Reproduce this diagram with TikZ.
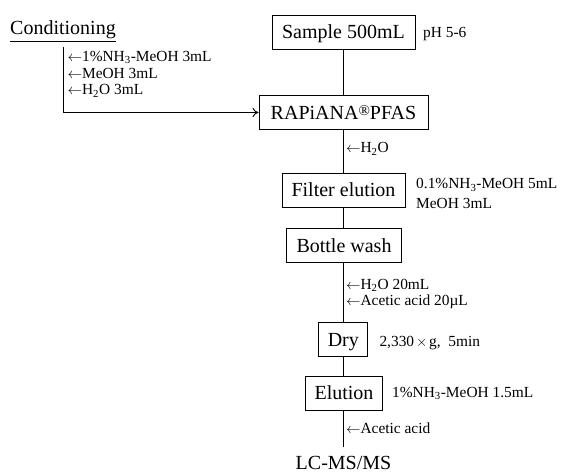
\documentclass[tikz,border=0pt]{standalone}
\usepackage{fontspec}
\setmainfont{Liberation Serif}
\usetikzlibrary{arrows.meta}
\newcommand{\la}{\ensuremath{\leftarrow}}
\begin{document}
\begin{tikzpicture}[x=1pt,y=-1pt,
  stepbox/.style={draw,line width=0.9pt,minimum height=34pt,inner sep=0pt,text height=13.5pt,text depth=0pt,font=\fontsize{20}{24}\selectfont},
  note/.style={anchor=base west,inner sep=0pt,font=\fontsize{15.4}{18}\selectfont,align=left},
  flow/.style={line width=0.9pt}]
\useasboundingbox (0,0) rectangle (562,473);
\node[stepbox,minimum width=143pt] (sample) at (343.5,32) {Sample 500mL};
\node[stepbox,minimum width=169pt] (rapiana) at (343.5,112.5) {RAPiANA\raisebox{4pt}{\fontsize{15}{15}\selectfont ®}PFAS};
\node[stepbox,minimum width=123pt] (filter) at (343.5,190) {Filter elution};
\node[stepbox,minimum width=115pt] (bottle) at (344,245.5) {Bottle wash};
\node[stepbox,minimum width=49pt] (dry) at (343.3,339.7) {Dry};
\node[stepbox,minimum width=77pt] (elution) at (344,393) {Elution};
\node[anchor=base,inner sep=0pt,font=\fontsize{20}{24}\selectfont] (lcms) at (343.5,469.5) {LC-MS/MS};
\coordinate (lend) at (343,447);
\draw[flow] (sample.south -| 343,0) -- (rapiana.north -| 343,0);
\draw[flow] (rapiana.south -| 343,0) -- (filter.north -| 343,0);
\draw[flow] (filter.south -| 343,0) -- (bottle.north -| 343,0);
\draw[flow] (bottle.south -| 343,0) -- (dry.north -| 343,0);
\draw[flow] (dry.south -| 343,0) -- (elution.north -| 343,0);
\draw[flow] (elution.south -| 343,0) -- (lend);
% conditioning
\node[anchor=base west,inner sep=0pt,font=\fontsize{20}{24}\selectfont] (cond) at (10,35) {\underline{Conditioning}};
\coordinate (c1) at (63,47);
\coordinate (c2) at (63,112.5);
\draw[flow,-{To[length=6pt,width=9pt]}] (c1) -- (c2) -- (rapiana.west);
\node[note] (n1) at (67.5,61.5) {\la1\%NH\textsubscript{3}-MeOH 3mL};
\node[note] (n2) at (67.5,78.5) {\la MeOH 3mL};
\node[note] (n3) at (67.5,95) {\la H\textsubscript{2}O 3mL};
% notes
\node[note] (ph) at (423,37.5) {pH 5-6};
\node[note] (w1) at (346,153) {\la H\textsubscript{2}O};
\node[note] (f1) at (416,189) {0.1\%NH\textsubscript{3}-MeOH 5mL};
\node[note] (f2) at (416,209) {MeOH 3mL};
\node[note] (b1) at (346,289) {\la H\textsubscript{2}O 20mL};
\node[note] (b2) at (346,305.5) {\la Acetic acid 20µL};
\node[note] (d1) at (379.3,346.5) {2,330\makebox[15pt]{$\times$}g,\ \ 5min};
\node[note] (e1) at (392,397.5) {1\%NH\textsubscript{3}-MeOH 1.5mL};
\node[note] (a1) at (346,433) {\la Acetic acid};
\end{tikzpicture}
\end{document}
